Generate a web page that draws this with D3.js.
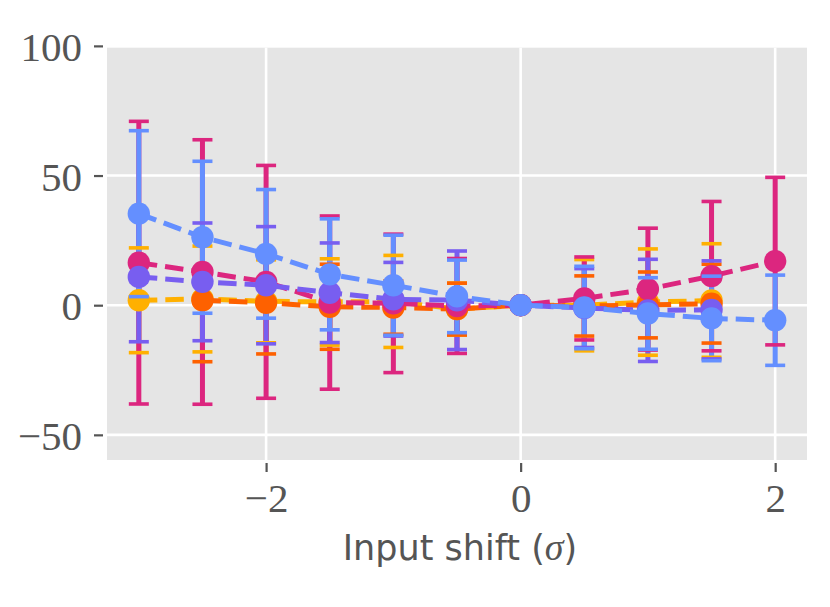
<!DOCTYPE html>
<html>
<head>
<meta charset="utf-8">
<script src="https://cdn.jsdelivr.net/npm/d3@7/dist/d3.min.js"></script>
<style>
  body { margin: 0; background: #fff; }
</style>
</head>
<body>
<svg id="chart" width="830" height="607"></svg>
<script>
// ── data (mean and +/- spread per input shift) ─────────────────────────────
var shifts = [-3, -2.5, -2, -1.5, -1, -0.5, 0, 0.5, 1, 1.5, 2];

var yellowMean  = [1.9, 2.4, 1.5, 1.25, 1.45, -1.5, 0, 0.0, 1.2, 1.8, null];
var yellowErr   = [20.2, 20.4, 16.0, 16.65, 17.75, 10.0, 0, 17.6, 20.5, 21.9, null];

var orangeMean  = [null, 1.9, 0.9, -0.6, -0.9, -1.5, 0, -0.3, 0.1, 0.6, null];
var orangeErr   = [null, 23.7, 19.7, 16.4, 10.3, 10.0, 0, 11.6, 12.7, 15.2, null];

var magentaMean = [16.4, 12.8, 9.0, 1.0, 0.7, -0.3, 0, 2.6, 6.2, 11.2, 17.0];
var magentaErr  = [54.5, 51.0, 44.9, 33.4, 26.7, 18.3, 0, 16.0, 23.5, 28.8, 32.3];

var purpleMean  = [10.9, 9.0, 7.7, 4.8, 2.3, 1.9, 0, -1.1, -2.0, -1.8, null];
var purpleErr   = [25.0, 22.7, 22.6, 19.2, 14.2, 19.0, 0, 15.2, 19.7, 18.9, null];

var blueMean    = [35.3, 26.2, 19.8, 11.9, 7.7, 3.4, 0, -0.9, -3.2, -5.1, -5.8];
var blueErr     = [32.0, 29.3, 24.8, 21.4, 19.3, 14.0, 0, 15.9, 13.8, 16.3, 17.4];

var xTicks = [-2, 0, 2];
var yTicks = [-50, 0, 50, 100];
var xLabel = 'Input shift (';

// ── style ──────────────────────────────────────────────────────────────────
var c = {
    panel:   '#e5e5e5',
    grid:    '#ffffff',
    ink:     '#555555',
    yellow:  '#ffb000',
    orange:  '#fe6100',
    magenta: '#dc267f',
    purple:  '#785ef0',
    blue:    '#648fff'
};

// draw order as in the picture: later series sit on top
var series = [
    { color: c.yellow,  mean: yellowMean,  err: yellowErr },
    { color: c.orange,  mean: orangeMean,  err: orangeErr },
    { color: c.magenta, mean: magentaMean, err: magentaErr },
    { color: c.purple,  mean: purpleMean,  err: purpleErr },
    { color: c.blue,    mean: blueMean,    err: blueErr }
];

// ── geometry ───────────────────────────────────────────────────────────────
var L = 107, R = 807, T = 47.7, B = 460;
var capHalf = 10, dotR = 11.2, lw = 5;
var serif = '"Liberation Serif", "DejaVu Serif", serif';

var x = d3.scaleLinear().domain([-3.25, 2.25]).range([L, R]);
var y = d3.scaleLinear().domain([-59.7, 99.3]).range([B, T]);

var svg = d3.select('#chart');

svg.append('rect')
    .attr('x', L).attr('y', T)
    .attr('width', R - L).attr('height', B - T)
    .attr('fill', c.panel);

// grid
var grid = svg.append('g');
grid.selectAll('.gx').data(xTicks).enter().append('line')
    .attr('x1', function (d) { return x(d); }).attr('x2', function (d) { return x(d); })
    .attr('y1', T).attr('y2', B)
    .attr('stroke', c.grid).attr('stroke-width', 2.6);
grid.selectAll('.gy').data(yTicks.filter(function (d) { return y(d) > T; })).enter().append('line')
    .attr('x1', L).attr('x2', R)
    .attr('y1', function (d) { return y(d); }).attr('y2', function (d) { return y(d); })
    .attr('stroke', c.grid).attr('stroke-width', 2.6);

// ── axes ───────────────────────────────────────────────────────────────────
var xAxis = svg.append('g')
    .attr('transform', 'translate(0,' + (B + 3) + ')')
    .call(d3.axisBottom(x).tickValues(xTicks).tickFormat(d3.format('d'))
        .tickSize(9).tickPadding(0));
var yAxis = svg.append('g')
    .attr('transform', 'translate(' + (L - 4) + ',0)')
    .call(d3.axisLeft(y).tickValues(yTicks).tickFormat(d3.format('d'))
        .tickSize(9).tickPadding(12));

[xAxis, yAxis].forEach(function (ax) {
    ax.select('.domain').remove();
    ax.selectAll('.tick line').attr('stroke', c.ink).attr('stroke-width', 2.2);
    ax.selectAll('.tick text')
        .attr('fill', c.ink)
        .attr('font-family', serif)
        .attr('font-size', '41px');
});
xAxis.selectAll('.tick text').attr('y', 49).attr('dy', null);
yAxis.selectAll('.tick text').attr('dy', '0.36em');

var lab = svg.append('text')
    .attr('x', 460).attr('y', 560)
    .attr('text-anchor', 'middle')
    .attr('fill', c.ink)
    .attr('font-family', '"DejaVu Sans", sans-serif')
    .attr('font-size', '35px');
lab.append('tspan').text(xLabel);
lab.append('tspan')
    .attr('font-family', serif)
    .attr('font-style', 'italic')
    .attr('font-size', '38px')
    .text('σ');
lab.append('tspan').text(')');

// ── marks ──────────────────────────────────────────────────────────────────
function points(s) {
    return shifts.map(function (v, i) {
        return { x: v, m: s.mean[i], e: s.err[i] };
    }).filter(function (p) { return p.m !== null; });
}

var plot = svg.append('g');

// error bars of every series first, then caps and lines per series
series.forEach(function (s) {
    plot.append('g').selectAll('line').data(points(s)).enter().append('line')
        .attr('x1', function (p) { return x(p.x); }).attr('x2', function (p) { return x(p.x); })
        .attr('y1', function (p) { return y(p.m - p.e); })
        .attr('y2', function (p) { return y(p.m + p.e); })
        .attr('stroke', s.color).attr('stroke-width', lw);
});

var line = d3.line()
    .x(function (p) { return x(p.x); })
    .y(function (p) { return y(p.m); });

series.forEach(function (s) {
    var pts = points(s);
    var g = plot.append('g');
    pts.forEach(function (p) {
        [p.m - p.e, p.m + p.e].forEach(function (v) {
            g.append('line')
                .attr('x1', x(p.x) - capHalf).attr('x2', x(p.x) + capHalf)
                .attr('y1', y(v)).attr('y2', y(v))
                .attr('stroke', s.color).attr('stroke-width', 3.6);
        });
    });
    g.append('path').datum(pts)
        .attr('d', line)
        .attr('fill', 'none')
        .attr('stroke', s.color)
        .attr('stroke-width', lw)
        .attr('stroke-dasharray', (3.7 * lw) + ',' + (1.6 * lw));
    g.selectAll('circle').data(pts).enter().append('circle')
        .attr('cx', function (p) { return x(p.x); })
        .attr('cy', function (p) { return y(p.m); })
        .attr('r', dotR)
        .attr('fill', s.color);
});
</script>
</body>
</html>
